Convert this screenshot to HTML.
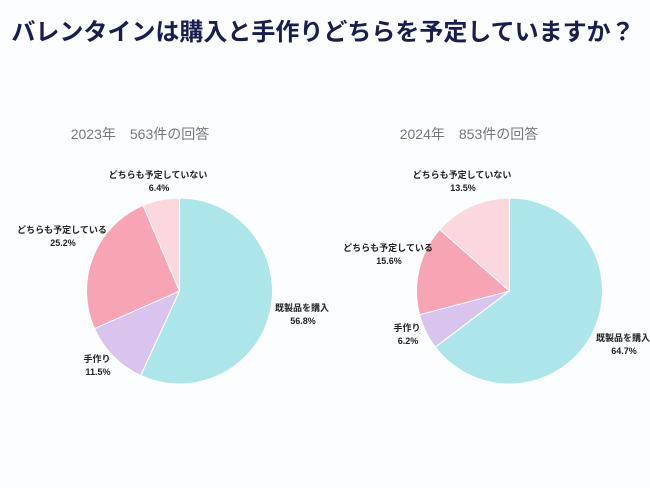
<!DOCTYPE html>
<html><head><meta charset="utf-8">
<style>
body{margin:0;background:#fbfdff;}
svg{display:block;font-family:"Liberation Sans","Noto Sans CJK JP",sans-serif;}
</style></head>
<body>
<svg id="c" width="650" height="488" viewBox="0 0 650 488">
<rect width="650" height="488" fill="#fbfdff"/>
<text x="323" y="40" text-anchor="middle" font-size="24" font-weight="bold" fill="#1b1c4f" font-family="'Noto Sans CJK JP',sans-serif">バレンタインは購入と手作りどちらを予定していますか？</text>
</svg>
<script>
const categories = ["既製品を購入","手作り","どちらも予定している","どちらも予定していない"];
const values2023 = [56.8, 11.5, 25.2, 6.4];
const values2024 = [64.7, 6.2, 15.6, 13.5];
const subtitles = ["2023年　563件の回答","2024年　853件の回答"];
const colors = ["#ade6ea","#d9c4ee","#f7a4b4","#fbd8de"];
const pieLayout = [
  {cx:179.5, cy:291, r:93, sx:140, labels:[[302,311],[97,362],[62,233],[158,178]]},
  {cx:509.5, cy:291, r:93, sx:469, labels:[[623,341],[407,331],[388,251],[462,178]]}
];
const svg = document.getElementById('c');
const NS = 'http://www.w3.org/2000/svg';
function pt(cx,cy,r,frac){const a=frac*2*Math.PI-Math.PI/2;return [cx+r*Math.cos(a),cy+r*Math.sin(a)];}
[values2023, values2024].forEach((vals, pi) => {
  const L = pieLayout[pi];
  const total = vals.reduce((a,b)=>a+b,0);
  const st = document.createElementNS(NS,'text');
  
  
  st.setAttribute('x', L.sx); st.setAttribute('y', 139);
  st.setAttribute('text-anchor','middle'); st.setAttribute('font-size','14'); st.setAttribute('fill','#777');
  st.textContent = subtitles[pi];
  svg.appendChild(st);
  let acc = 0;
  vals.forEach((v,i) => {
    const f0 = acc/total, f1 = (acc+v)/total; acc += v;
    const [x0,y0] = pt(L.cx,L.cy,L.r,f0), [x1,y1] = pt(L.cx,L.cy,L.r,f1);
    const large = (f1-f0)>0.5?1:0;
    const p = document.createElementNS(NS,'path');
    
    
    p.setAttribute('d',`M${L.cx},${L.cy}L${x0},${y0}A${L.r},${L.r} 0 ${large} 1 ${x1},${y1}Z`);
    p.setAttribute('fill',colors[i]); p.setAttribute('stroke','#fff'); p.setAttribute('stroke-width','1');
    svg.appendChild(p);
    const [lx,ly] = L.labels[i];
    const t1 = document.createElementNS(NS,'text');
    
    
    t1.setAttribute('x',lx); t1.setAttribute('y',ly); t1.setAttribute('text-anchor','middle');
    t1.setAttribute('font-size','9'); t1.setAttribute('font-weight','bold'); t1.setAttribute('fill','#222');
    t1.textContent = categories[i];
    svg.appendChild(t1);
    const t2 = document.createElementNS(NS,'text');
    
    
    t2.setAttribute('x',lx+1); t2.setAttribute('y',ly+13); t2.setAttribute('text-anchor','middle');
    t2.setAttribute('font-size','9'); t2.setAttribute('font-weight','bold'); t2.setAttribute('fill','#222');
    t2.textContent = v.toFixed(1)+'%';
    svg.appendChild(t2);
  });
});
</script>
</body></html>
